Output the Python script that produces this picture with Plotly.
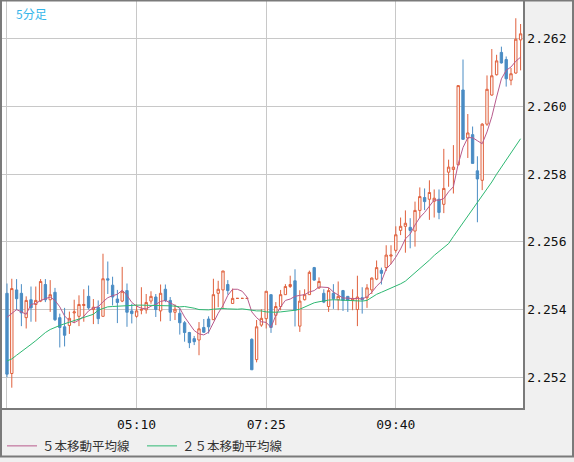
import plotly.graph_objects as go

# 5-minute bars starting 02:55
times = [f"{(175 + 5 * k) // 60:02d}:{(175 + 5 * k) % 60:02d}" for k in range(108)]

opens = [
    2.25448, 2.25211, 2.25458, 2.25448, 2.25376, 2.25429, 2.25415, 2.25425, 2.25474, 2.25429,
    2.25451, 2.25376, 2.25349, 2.25353, 2.25390, 2.25380, 2.25412, 2.25439, 2.25400, 2.25407,
    2.25380, 2.25491, 2.25472, 2.25431, 2.25425, 2.25456, 2.25396, 2.25380, 2.25398, 2.25399,
    2.25425, 2.25437, 2.25396, 2.25460, 2.25427, 2.25392, 2.25389, 2.25361, 2.25332, 2.25314,
    2.25310, 2.25347, 2.25372, 2.25370, 2.25448, 2.25458, 2.25474, 2.25418, 2.25433, 2.25433,
    2.25433, 2.25312, 2.25252, 2.25354, 2.25373, 2.25444, 2.25383, 2.25409, 2.25444, 2.25468,
    2.25485, 2.25351, 2.25429, 2.25444, 2.25524, 2.25464, 2.25448, 2.25409, 2.25448, 2.25429,
    2.25456, 2.25439, 2.25427, 2.25400, 2.25435, 2.25435, 2.25458, 2.25490, 2.25516, 2.25524,
    2.25558, 2.25575, 2.25634, 2.25646, 2.25643, 2.25632, 2.25693, 2.25731, 2.25726, 2.25720,
    2.25726, 2.25711, 2.25806, 2.25814, 2.25828, 2.26049, 2.25907, 2.25917, 2.25810, 2.25782,
    2.25948, 2.26034, 2.26094, 2.26160, 2.26139, 2.26078, 2.26099, 2.26197,
]
highs = [
    2.25477, 2.25491, 2.25490, 2.25475, 2.25439, 2.25468, 2.25468, 2.25490, 2.25490, 2.25487,
    2.25464, 2.25388, 2.25405, 2.25394, 2.25429, 2.25442, 2.25460, 2.25471, 2.25431, 2.25427,
    2.25565, 2.25542, 2.25497, 2.25458, 2.25526, 2.25477, 2.25417, 2.25415, 2.25466, 2.25446,
    2.25454, 2.25446, 2.25474, 2.25474, 2.25437, 2.25415, 2.25404, 2.25366, 2.25334, 2.25322,
    2.25363, 2.25372, 2.25380, 2.25491, 2.25485, 2.25514, 2.25487, 2.25462, 2.25433, 2.25433,
    2.25433, 2.25315, 2.25369, 2.25401, 2.25454, 2.25444, 2.25422, 2.25458, 2.25475, 2.25500,
    2.25519, 2.25457, 2.25460, 2.25515, 2.25526, 2.25495, 2.25460, 2.25464, 2.25475, 2.25483,
    2.25458, 2.25439, 2.25460, 2.25500, 2.25466, 2.25475, 2.25495, 2.25545, 2.25524, 2.25590,
    2.25590, 2.25646, 2.25672, 2.25693, 2.25670, 2.25719, 2.25761, 2.25758, 2.25782, 2.25755,
    2.25755, 2.25875, 2.25843, 2.25886, 2.26062, 2.26139, 2.25978, 2.25941, 2.25853, 2.25951,
    2.26092, 2.26170, 2.26153, 2.26177, 2.26148, 2.26114, 2.26261, 2.26244,
]
lows = [
    2.25200, 2.25169, 2.25398, 2.25351, 2.25344, 2.25364, 2.25364, 2.25422, 2.25422, 2.25393,
    2.25366, 2.25288, 2.25291, 2.25328, 2.25360, 2.25351, 2.25364, 2.25400, 2.25357, 2.25357,
    2.25380, 2.25446, 2.25412, 2.25360, 2.25422, 2.25349, 2.25359, 2.25376, 2.25386, 2.25388,
    2.25417, 2.25378, 2.25365, 2.25422, 2.25366, 2.25369, 2.25326, 2.25305, 2.25286, 2.25295,
    2.25265, 2.25331, 2.25329, 2.25369, 2.25407, 2.25402, 2.25444, 2.25417, 2.25433, 2.25433,
    2.25433, 2.25222, 2.25244, 2.25349, 2.25344, 2.25331, 2.25354, 2.25398, 2.25444, 2.25464,
    2.25350, 2.25334, 2.25427, 2.25444, 2.25485, 2.25461, 2.25419, 2.25393, 2.25402, 2.25398,
    2.25396, 2.25393, 2.25398, 2.25351, 2.25388, 2.25405, 2.25446, 2.25487, 2.25474, 2.25514,
    2.25534, 2.25568, 2.25620, 2.25568, 2.25581, 2.25586, 2.25670, 2.25694, 2.25665, 2.25672,
    2.25667, 2.25685, 2.25763, 2.25743, 2.25826, 2.25903, 2.25848, 2.25832, 2.25658, 2.25753,
    2.25943, 2.26032, 2.26092, 2.26127, 2.26059, 2.26063, 2.26097, 2.26107,
]
closes = [
    2.25209, 2.25462, 2.25432, 2.25390, 2.25427, 2.25405, 2.25427, 2.25483, 2.25429, 2.25444,
    2.25370, 2.25347, 2.25324, 2.25374, 2.25393, 2.25415, 2.25415, 2.25405, 2.25407, 2.25373,
    2.25491, 2.25487, 2.25437, 2.25421, 2.25454, 2.25392, 2.25388, 2.25396, 2.25400, 2.25421,
    2.25439, 2.25400, 2.25448, 2.25427, 2.25392, 2.25401, 2.25361, 2.25332, 2.25302, 2.25305,
    2.25343, 2.25333, 2.25349, 2.25444, 2.25460, 2.25514, 2.25456, 2.25433, 2.25433, 2.25433,
    2.25433, 2.25222, 2.25349, 2.25374, 2.25454, 2.25347, 2.25409, 2.25444, 2.25468, 2.25474,
    2.25398, 2.25425, 2.25444, 2.25510, 2.25487, 2.25483, 2.25422, 2.25456, 2.25432, 2.25439,
    2.25427, 2.25427, 2.25433, 2.25437, 2.25429, 2.25464, 2.25493, 2.25524, 2.25507, 2.25561,
    2.25561, 2.25621, 2.25646, 2.25655, 2.25634, 2.25693, 2.25734, 2.25719, 2.25746, 2.25729,
    2.25687, 2.25758, 2.25821, 2.25821, 2.26062, 2.25903, 2.25922, 2.25832, 2.25786, 2.25948,
    2.26051, 2.26091, 2.26135, 2.26129, 2.26082, 2.26097, 2.26199, 2.26215,
]

# moving averages as drawn on the chart (they carry history from before the window)
ma5 = [
    2.25377, 2.25388, 2.25400, 2.25393, 2.25386, 2.25415, 2.25418, 2.25427, 2.25432, 2.25437,
    2.25427, 2.25408, 2.25381, 2.25367, 2.25361, 2.25369, 2.25380, 2.25396, 2.25405, 2.25408,
    2.25423, 2.25435, 2.25441, 2.25445, 2.25457, 2.25442, 2.25421, 2.25410, 2.25404, 2.25402,
    2.25410, 2.25415, 2.25424, 2.25427, 2.25420, 2.25412, 2.25404, 2.25378, 2.25356, 2.25338,
    2.25328, 2.25325, 2.25333, 2.25362, 2.25389, 2.25412, 2.25442, 2.25460, 2.25460, 2.25454,
    2.25437, 2.25393, 2.25376, 2.25364, 2.25362, 2.25347, 2.25383, 2.25408, 2.25427, 2.25431,
    2.25439, 2.25442, 2.25444, 2.25452, 2.25456, 2.25467, 2.25466, 2.25465, 2.25452, 2.25443,
    2.25434, 2.25434, 2.25432, 2.25433, 2.25431, 2.25438, 2.25451, 2.25469, 2.25483, 2.25520,
    2.25535, 2.25555, 2.25579, 2.25609, 2.25623, 2.25650, 2.25672, 2.25687, 2.25705, 2.25724,
    2.25723, 2.25728, 2.25748, 2.25763, 2.25830, 2.25879, 2.25908, 2.25908, 2.25899, 2.25890,
    2.25925, 2.25970, 2.26028, 2.26082, 2.26107, 2.26117, 2.26134, 2.26146,
]
ma25 = [
    2.25248, 2.25254, 2.25265, 2.25275, 2.25286, 2.25297, 2.25308, 2.25320, 2.25332, 2.25341,
    2.25348, 2.25353, 2.25358, 2.25363, 2.25367, 2.25371, 2.25376, 2.25381, 2.25386, 2.25398,
    2.25404, 2.25408, 2.25409, 2.25410, 2.25411, 2.25413, 2.25413, 2.25413, 2.25413, 2.25413,
    2.25413, 2.25413, 2.25413, 2.25412, 2.25411, 2.25410, 2.25408, 2.25409, 2.25407, 2.25404,
    2.25400, 2.25399, 2.25399, 2.25401, 2.25403, 2.25403, 2.25402, 2.25401, 2.25401, 2.25402,
    2.25401, 2.25398, 2.25396, 2.25396, 2.25393, 2.25392, 2.25392, 2.25393, 2.25394, 2.25396,
    2.25398, 2.25401, 2.25407, 2.25414, 2.25420, 2.25423, 2.25426, 2.25428, 2.25429, 2.25428,
    2.25427, 2.25426, 2.25425, 2.25425, 2.25425, 2.25427, 2.25437, 2.25445, 2.25451, 2.25457,
    2.25464, 2.25470, 2.25476, 2.25484, 2.25496, 2.25510, 2.25520, 2.25533, 2.25546, 2.25560,
    2.25572, 2.25583, 2.25595, 2.25616, 2.25636, 2.25654, 2.25674, 2.25695, 2.25715, 2.25736,
    2.25756, 2.25777, 2.25800, 2.25821, 2.25841, 2.25862, 2.25885, 2.25905,
]

y_ticks = [2.252, 2.254, 2.256, 2.258, 2.260, 2.262]
x_ticks = ["02:55", "05:10", "07:25", "09:40"]
x_ticktext = ["", "05:10", "07:25", "09:40"]

UP = "#e0603c"
DOWN = "#4a8cc4"
MONO = "DejaVu Sans Mono"
JP = "Noto Sans CJK JP"

fig = go.Figure()

fig.add_trace(go.Candlestick(
    x=times, open=opens, high=highs, low=lows, close=closes,
    increasing=dict(line=dict(color=UP, width=1), fillcolor="white"),
    decreasing=dict(line=dict(color=DOWN, width=1), fillcolor=DOWN),
    whiskerwidth=0,
    showlegend=False,
    hoverinfo="skip",
))
fig.add_trace(go.Scatter(
    x=times, y=ma5, mode="lines", name="５本移動平均線",
    line=dict(color="#b85a8c", width=1),
))
fig.add_trace(go.Scatter(
    x=times, y=ma25, mode="lines", name="２５本移動平均線",
    line=dict(color="#2eb872", width=1),
))

fig.update_layout(
    width=574, height=462,
    margin=dict(l=2, r=51, t=1, b=50),
    paper_bgcolor="#f0f0f0",
    plot_bgcolor="white",
    showlegend=True,
    legend=dict(
        orientation="h", x=0.0, xanchor="left", y=-0.094, yanchor="middle",
        font=dict(family=JP, size=12.5, color="#333333"),
        bgcolor="rgba(0,0,0,0)", itemwidth=30, entrywidth=95,
    ),
    xaxis=dict(
        type="category",
        range=[-1.04, 107.5],
        tickvals=x_ticks, ticktext=x_ticktext,
        showgrid=True, gridcolor="#c8c8c8", gridwidth=1,
        showline=True, linecolor="#7a7a7a", linewidth=1.5,
        ticks="", ticklabelstandoff=4,
        tickfont=dict(family=MONO, size=13, color="#111111"),
        rangeslider=dict(visible=False),
        fixedrange=True,
    ),
    yaxis=dict(
        side="right",
        range=[2.25109, 2.26312],
        tickvals=y_ticks, tickformat=".3f",
        showgrid=True, gridcolor="#c8c8c8", gridwidth=1,
        zeroline=False,
        showline=True, linecolor="#7a7a7a", linewidth=1.5,
        ticks="", tickfont=dict(family=MONO, size=13, color="#111111"),
        fixedrange=True,
    ),
    annotations=[dict(
        text="5分足", xref="paper", yref="paper", x=0.023, y=0.995,
        xanchor="left", yanchor="top", showarrow=False,
        font=dict(family=JP, size=12, color="#35b6ea"),
    )],
    shapes=[dict(
        type="rect", xref="paper", yref="paper",
        x0=-0.00192, x1=1.0960, y0=-0.1192, y1=1.0012,
        line=dict(color="#7a7a7a", width=2), fillcolor="rgba(0,0,0,0)",
        layer="above",
    )],
)

fig.write_html(
    "out.html",
    config={"displayModeBar": False},
    post_script="document.body.style.margin='0';",
)
